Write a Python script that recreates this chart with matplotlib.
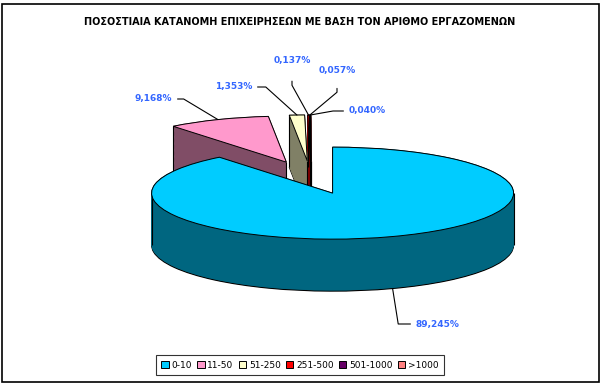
import matplotlib
matplotlib.use('Agg')
import matplotlib.pyplot as plt
from matplotlib.patches import Rectangle
from matplotlib.colors import to_rgb
import numpy as np

# Datos
categories = ['0-10', '11-50', '51-250', '251-500', '501-1000', '>1000']
values = [89.245, 9.168, 1.353, 0.137, 0.057, 0.040]
labels = ['89,245%', '9,168%', '1,353%', '0,137%', '0,057%', '0,040%']
colors = ['#00ccff', '#ff99cc', '#ffffcc', '#ff0000', '#660066', '#ff8080']
title = 'ΠΟΣΟΣΤΙΑΙΑ ΚΑΤΑΝΟΜΗ ΕΠΙΧΕΙΡΗΣΕΩΝ ΜΕ ΒΑΣΗ ΤΟΝ ΑΡΙΘΜΟ ΕΡΓΑΖΟΜΕΝΩΝ'

W, H = 603, 386
plt.rcParams['font.family'] = ['DejaVu Sans']

fig = plt.figure(figsize=(W/100, H/100), dpi=100)
ax = fig.add_axes([0, 0, 1, 1])

# geometria del pastel "3D" (radio 1 en x, aplastado en y)
cx, cy, a, b = 311, 177.5, 181, 46   # pixeles
depth = 52/b
expl = 0.36
explode = [expl]*len(values)
walls = [tuple(c*0.5 for c in to_rgb(col)) for col in colors]

# paredes: pasteles apilados hacia abajo
levels = np.linspace(depth, 0, 45)
for k, d in enumerate(levels):
    if k == 0:
        ax.pie(values, colors=walls, explode=explode, startangle=90, counterclock=False,
               center=(0, -d), wedgeprops=dict(edgecolor='black', linewidth=0.8))
    else:
        wedges, _ = ax.pie(values, colors=walls, explode=explode, startangle=90,
                           counterclock=False, center=(0, -d))
        for w in wedges:
            w.set_edgecolor(w.get_facecolor())
            w.set_linewidth(0.6)

# cara superior
top, _ = ax.pie(values, colors=colors, explode=explode, startangle=90, counterclock=False,
                center=(0, 0), wedgeprops=dict(edgecolor='black', linewidth=0.7))
for w in top:
    w.set_zorder(3)

# aristas verticales visibles de cada porcion
def sin_d(t):
    return np.sin(np.deg2rad(t))

xs, y0s = [], []
for w in top:
    ox, oy = w.center
    t1, t2 = w.theta1, w.theta2
    f1 = sin_d(t1 - 90) < -1e-6   # cara radial inicial visible
    f2 = sin_d(t2 + 90) < -1e-6   # cara radial final visible
    pts = []
    if f1 or f2:
        pts.append((ox, oy))
    for t, f in ((t1, f1), (t2, f2)):
        if f or sin_d(t) < -1e-6:
            pts.append((ox + np.cos(np.deg2rad(t)), oy + sin_d(t)))
    for ext in (-360, -180, 0, 180, 360):
        if t1 < ext < t2:
            pts.append((ox + np.cos(np.deg2rad(ext)), oy))
    for p in pts:
        xs.append(p[0])
        y0s.append(p[1])
xs, y0s = np.array(xs), np.array(y0s)
ax.vlines(xs, y0s - depth, y0s, colors='black', linewidth=0.8, zorder=2)

ax.set_aspect('auto')
ax.set_xlim(-cx/a, (W-cx)/a)
ax.set_ylim((cy-H)/b, cy/b)
ax.axis('off')

# etiquetas con lineas guia
label_pos = [(416, 324, 'left'), (172, 99, 'right'), (252, 87, 'right'),
             (292, 60, 'center'), (337, 70, 'center'), (349, 111, 'left')]
conn = [(0, 99, 2), (0, -31, 2), (0, -42, 2), (90, -61, 10), (90, 40, 8), (0, 10, 2)]
cum = np.cumsum([0] + values[:-1])
for i, v in enumerate(values):
    th = np.deg2rad(90 - 360*(cum[i] + v/2)/100)
    px, py = (1+expl)*np.cos(th), (1+expl)*np.sin(th)
    if i == 0:
        py -= depth
    tx, ty, ha = label_pos[i]
    angA, angB, sh = conn[i]
    ax.annotate(labels[i], xy=(px, py), xytext=(tx, H-ty), textcoords='figure pixels',
                ha=ha, va='center', color='#3366ff', fontsize=6.5, fontweight='bold',
                zorder=5,
                arrowprops=dict(arrowstyle='-', color='black', lw=0.8, shrinkA=sh, shrinkB=0,
                                connectionstyle=f'angle,angleA={angA},angleB={angB},rad=0'))

fig.text(300/W, 1-22/H, title, ha='center', va='center', fontsize=7, fontweight='bold')

leg = fig.legend(top, categories, loc='center', bbox_to_anchor=(300/W, 1-365/H), ncol=6,
                 fontsize=6.5, frameon=True, fancybox=False, edgecolor='black',
                 handlelength=0.8, handleheight=0.8, handletextpad=0.3, columnspacing=0.6,
                 borderpad=0.6, borderaxespad=0)
leg.get_frame().set_linewidth(0.8)

# marco del grafico
fig.patches.append(Rectangle((2/W, 4/H), 597/W, 378/H, transform=fig.transFigure,
                             fill=False, edgecolor='black', linewidth=1.2))

fig.savefig('out.png', dpi=100)
